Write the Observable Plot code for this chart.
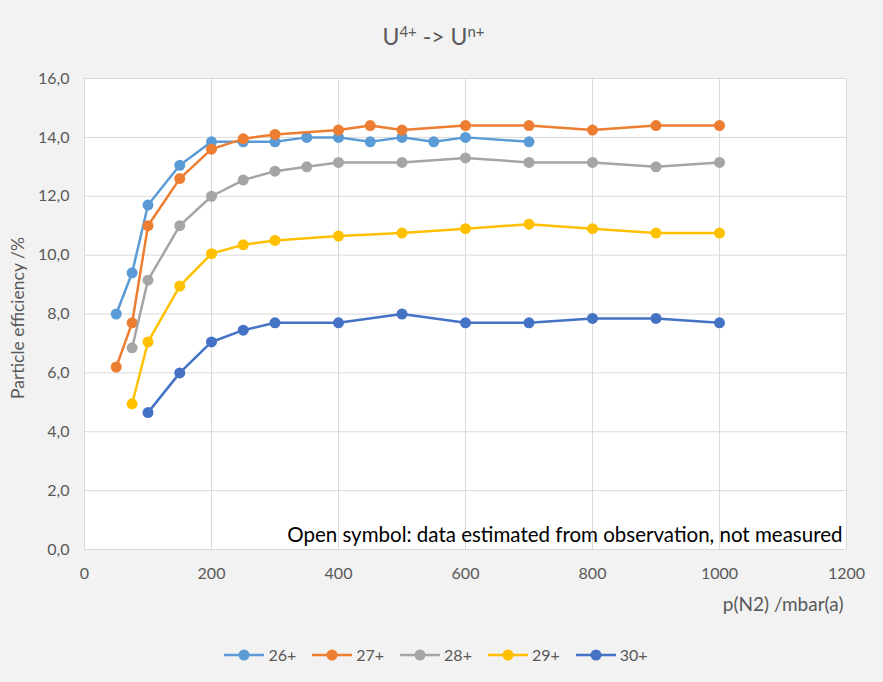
<!DOCTYPE html>
<html>
<head>
<meta charset="utf-8">
<script src="https://cdn.jsdelivr.net/npm/d3@7"></script>
<script src="https://cdn.jsdelivr.net/npm/@observablehq/plot@0.6"></script>
<style>
  html, body { margin: 0; padding: 0; background: #f2f2f2; }
  #chart { position: relative; width: 883px; height: 682px; background: #f2f2f2; font-family: Lato, "Open Sans", sans-serif; color: #595959; overflow: hidden; }
  #title { position: absolute; top: 21px; left: 0; width: 867px; text-align: center; font-size: 23px; line-height: 30px; }
  #title sup { font-size: 15px; vertical-align: 8px; line-height: 0; }
  #plot { position: absolute; top: 0; left: 0; }
  #legend { position: absolute; top: 645px; left: 0; width: 872px; display: flex; justify-content: center; gap: 16px; font-size: 16px; line-height: 20px; }
  #legend .item { display: flex; align-items: center; gap: 4px; }
</style>
</head>
<body>
<div id="chart">
  <div id="title">U<sup>4+</sup> -&gt; U<sup>n+</sup></div>
  <div id="plot"></div>
  <div id="legend"></div>
</div>
<script>
// Charge states and their colours
const series = ["26+", "27+", "28+", "29+", "30+"];
const colors = ["#5b9bd5", "#ed7d31", "#a5a5a5", "#ffc000", "#4472c4"];

// N2 pressure (mbar(a)) and particle efficiency (%) for each charge state
const p26 = [50, 75, 100, 150, 200, 250, 300, 350, 400, 450, 500, 550, 600, 700];
const e26 = [8.0, 9.4, 11.7, 13.05, 13.85, 13.85, 13.85, 14.0, 14.0, 13.85, 14.0, 13.85, 14.0, 13.85];

const p27 = [50, 75, 100, 150, 200, 250, 300, 400, 450, 500, 600, 700, 800, 900, 1000];
const e27 = [6.2, 7.7, 11.0, 12.6, 13.6, 13.95, 14.1, 14.25, 14.4, 14.25, 14.4, 14.4, 14.25, 14.4, 14.4];

const p28 = [75, 100, 150, 200, 250, 300, 350, 400, 500, 600, 700, 800, 900, 1000];
const e28 = [6.85, 9.15, 11.0, 12.0, 12.55, 12.85, 13.0, 13.15, 13.15, 13.3, 13.15, 13.15, 13.0, 13.15];

const p29 = [75, 100, 150, 200, 250, 300, 400, 500, 600, 700, 800, 900, 1000];
const e29 = [4.95, 7.05, 8.95, 10.05, 10.35, 10.5, 10.65, 10.75, 10.9, 11.05, 10.9, 10.75, 10.75];

const p30 = [100, 150, 200, 250, 300, 400, 500, 600, 700, 800, 900, 1000];
const e30 = [4.65, 6.0, 7.05, 7.45, 7.7, 7.7, 8.0, 7.7, 7.7, 7.85, 7.85, 7.7];

// Axis ticks and texts
const xTicks = [0, 200, 400, 600, 800, 1000, 1200];
const yTicks = [0, 2, 4, 6, 8, 10, 12, 14, 16];
const xTitle = "p(N2) /mbar(a)";
const yTitle = "Particle efficiency /%";
const note = "Open symbol: data estimated from observation, not measured";

const pressures = [p26, p27, p28, p29, p30];
const efficiencies = [e26, e27, e28, e29, e30];

// Long table: one row per measurement
const rows = series.flatMap((s, i) =>
  pressures[i].map((p, j) => ({series: s, p, e: efficiencies[i][j]}))
);

const gridStyle = {stroke: "#d9d9d9", strokeOpacity: 1, strokeWidth: 1};

// Each series draws its line and then its markers, later series on top
const seriesMarks = series.flatMap((s, i) => {
  const data = rows.filter(d => d.series === s);
  return [
    Plot.line(data, {x: "p", y: "e", stroke: colors[i], strokeWidth: 2.5}),
    Plot.dot(data, {x: "p", y: "e", fill: colors[i], r: 5.5})
  ];
});

const chart = Plot.plot({
  width: 883,
  height: 620,
  marginLeft: 84,
  marginRight: 37,
  marginTop: 78,
  marginBottom: 71,
  style: {background: "transparent", fontFamily: "Lato, 'Open Sans', sans-serif", fontSize: "16px", color: "#595959", overflow: "visible"},
  x: {domain: [0, 1200]},
  y: {domain: [0, 16]},
  marks: [
    Plot.frame({fill: "white", stroke: "none"}),
    Plot.gridY(yTicks, gridStyle),
    Plot.gridX(xTicks, gridStyle),
    Plot.axisY(yTicks, {tickSize: 0, tickPadding: 15, label: null,
      tickFormat: d => d.toFixed(1).replace(".", ",")}),
    Plot.axisX(xTicks, {tickSize: 0, tickPadding: 18, label: null, tickFormat: d => String(d)}),
    ...seriesMarks,
    Plot.text([note], {frameAnchor: "bottom-right", textAnchor: "end", lineAnchor: "bottom",
      dx: -4, dy: -8, fontSize: 20.5, fill: "#000000"}),
    Plot.text([xTitle], {frameAnchor: "bottom-right", textAnchor: "end", lineAnchor: "middle",
      dx: -3, dy: 55, fontSize: 19}),
    Plot.text([yTitle], {frameAnchor: "left", rotate: -90, textAnchor: "middle", lineAnchor: "middle",
      dx: -66, dy: 4, fontSize: 17.5})
  ]
});
document.getElementById("plot").appendChild(chart);

// Legend: swatch of line with marker, then label
const legend = document.getElementById("legend");
series.forEach((s, i) => {
  const item = document.createElement("div");
  item.className = "item";
  item.innerHTML =
    `<svg width="40" height="12"><line x1="0" x2="40" y1="6" y2="6" stroke="${colors[i]}" stroke-width="2.5"/>` +
    `<circle cx="20" cy="6" r="5.5" fill="${colors[i]}"/></svg><span>${s}</span>`;
  legend.appendChild(item);
});
</script>
</body>
</html>
